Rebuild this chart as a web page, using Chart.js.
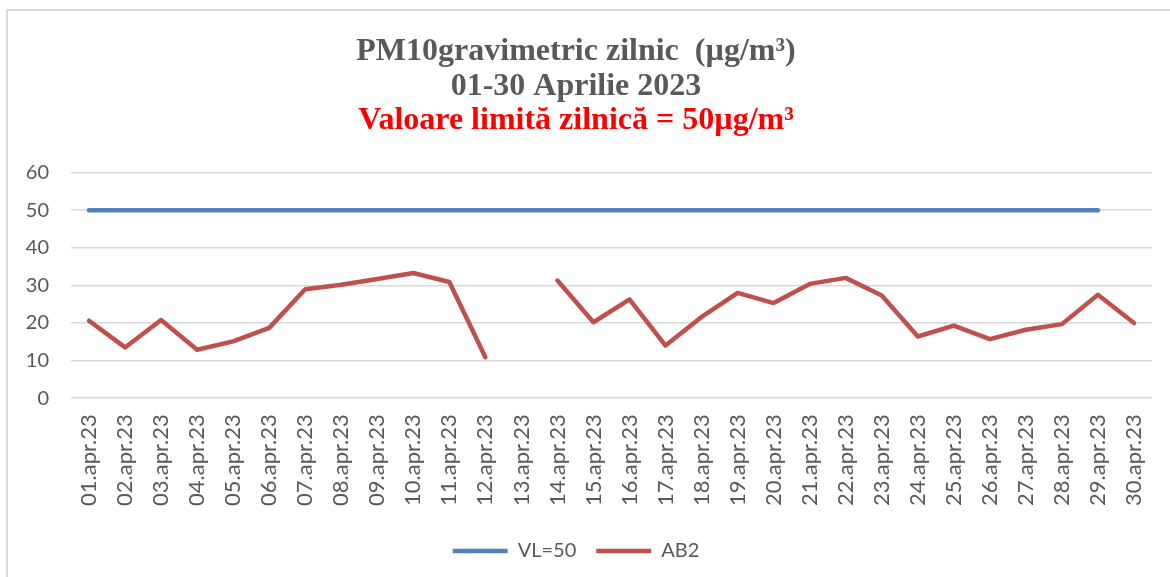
<!DOCTYPE html>
<html>
<head>
<meta charset="utf-8">
<script src="https://cdn.jsdelivr.net/npm/chart.js@4.4.0/dist/chart.umd.min.js"></script>
<style>
  html, body { margin: 0; padding: 0; background: #fff; }
  #wrap { position: relative; width: 1170px; height: 577px; overflow: hidden; }
  #frame { position: absolute; left: 6px; top: 9px; width: 1200px; height: 600px; border: 2px solid #d9d9d9; box-sizing: border-box; }
  canvas { position: absolute; left: 0; top: 0; }
</style>
</head>
<body>
<div id="wrap">
  <div id="frame"></div>
  <canvas id="pmChart" width="1170" height="577"></canvas>
</div>
<script>
// zilele lunii
const days = [
  '01.apr.23', '02.apr.23', '03.apr.23', '04.apr.23', '05.apr.23', '06.apr.23',
  '07.apr.23', '08.apr.23', '09.apr.23', '10.apr.23', '11.apr.23', '12.apr.23',
  '13.apr.23', '14.apr.23', '15.apr.23', '16.apr.23', '17.apr.23', '18.apr.23',
  '19.apr.23', '20.apr.23', '21.apr.23', '22.apr.23', '23.apr.23', '24.apr.23',
  '25.apr.23', '26.apr.23', '27.apr.23', '28.apr.23', '29.apr.23', '30.apr.23'
];

// valoarea limita (lipseste pe 30)
const vl50 = [
  50, 50, 50, 50, 50, 50, 50, 50, 50, 50, 50, 50, 50, 50, 50,
  50, 50, 50, 50, 50, 50, 50, 50, 50, 50, 50, 50, 50, 50, null
];

// PM10 AB2 (13 aprilie lipseste)
const ab2 = [
  20.6, 13.5, 20.8, 12.9, 15.1, 18.7, 29.0, 30.2, 31.7, 33.3,
  30.9, 10.9, null, 31.3, 20.2, 26.3, 14.0, 21.6, 28.0, 25.3,
  30.4, 32.0, 27.3, 16.4, 19.3, 15.7, 18.2, 19.7, 27.5, 20.0
];

const yTicks = [0, 10, 20, 30, 40, 50, 60];

const gray = '#595959';
const sansFont = 'Lato, "Liberation Sans", sans-serif';
const serifFont = '"Liberation Serif", "DejaVu Serif", serif';

const ctx = document.getElementById('pmChart').getContext('2d');
new Chart(ctx, {
    type: 'line',
    data: {
        labels: days,
        datasets: [
            {
                label: 'VL=50',
                data: vl50,
                borderColor: '#4f81bd',
                backgroundColor: '#4f81bd',
                borderWidth: 4.5,
                borderCapStyle: 'round',
                borderJoinStyle: 'round',
                pointRadius: 0,
                pointHoverRadius: 0,
                tension: 0,
                fill: false
            },
            {
                label: 'AB2',
                data: ab2,
                borderColor: '#c0504d',
                backgroundColor: '#c0504d',
                borderWidth: 4.5,
                borderCapStyle: 'round',
                borderJoinStyle: 'round',
                pointRadius: 0,
                pointHoverRadius: 0,
                tension: 0,
                spanGaps: false,
                fill: false
            }
        ]
    },
    options: {
        responsive: false,
        animation: false,
        layout: {
            padding: { left: 0, right: 18, top: 0, bottom: 6 }
        },
        plugins: {
            title: {
                display: true,
                text: ['PM10gravimetric zilnic  (µg/m³)', '01-30 Aprilie 2023'],
                color: gray,
                font: { family: serifFont, size: 32, weight: 'bold', lineHeight: 1.09 },
                padding: { top: 34, bottom: 0 }
            },
            subtitle: {
                display: true,
                text: 'Valoare limită zilnică = 50µg/m³',
                color: '#ff0000',
                font: { family: serifFont, size: 32, weight: 'bold', lineHeight: 1.09 },
                padding: { top: 0, bottom: 34 }
            },
            legend: {
                position: 'bottom',
                labels: {
                    color: gray,
                    font: { family: sansFont, size: 20 },
                    usePointStyle: true,
                    pointStyle: 'line',
                    pointStyleWidth: 55,
                    padding: 20
                }
            },
            tooltip: { enabled: false }
        },
        scales: {
            x: {
                offset: true,
                grid: { display: false },
                border: { display: false },
                afterFit: function(scale) {
                    scale.height += 7;
                },
                ticks: {
                    color: gray,
                    font: { family: sansFont, size: 22 },
                    minRotation: 90,
                    maxRotation: 90,
                    autoSkip: false,
                    padding: 8
                }
            },
            y: {
                min: 0,
                max: 60,
                afterBuildTicks: function(scale) {
                    scale.ticks = yTicks.map(function(v) { return { value: v }; });
                },
                afterFit: function(scale) {
                    scale.width = 71;
                },
                grid: { color: '#d9d9d9', lineWidth: 1.5, drawTicks: false },
                border: { display: false },
                ticks: {
                    color: gray,
                    font: { family: sansFont, size: 20 },
                    padding: 22
                }
            }
        }
    }
});
</script>
</body>
</html>
